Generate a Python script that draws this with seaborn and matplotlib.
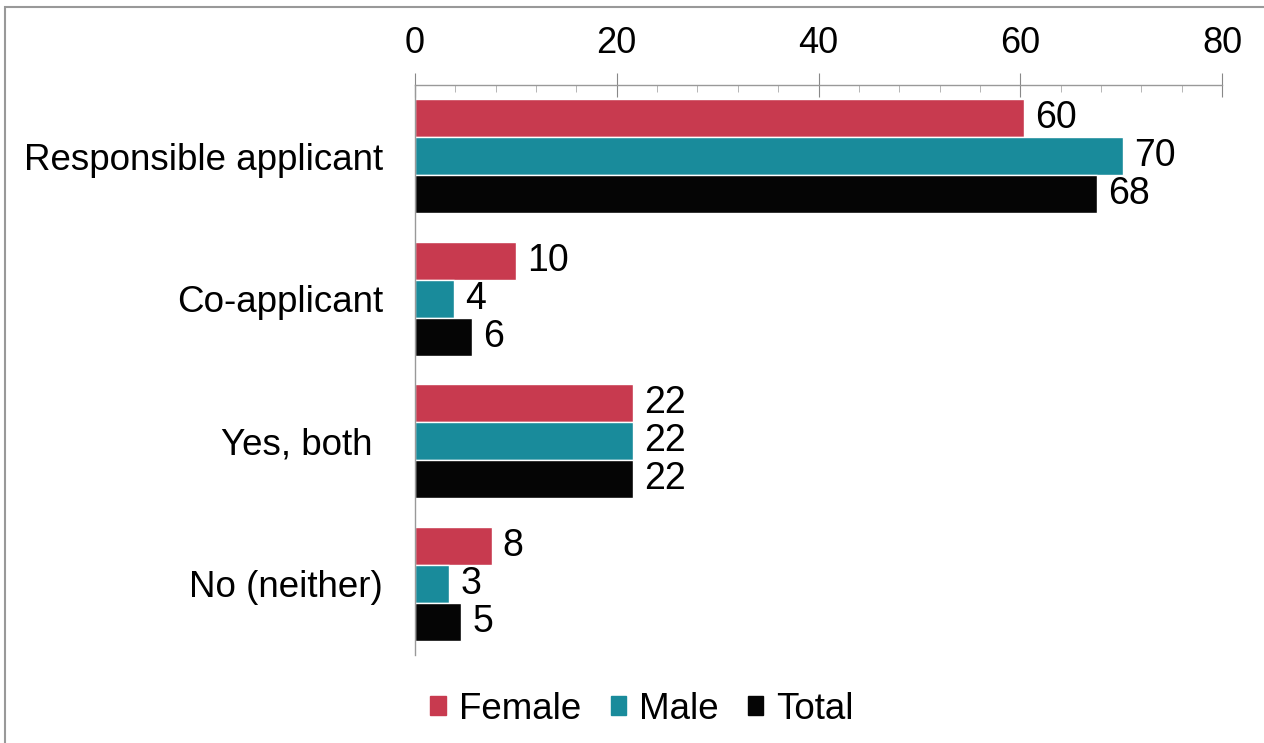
import pandas as pd
import matplotlib.pyplot as plt
import seaborn as sns
from matplotlib.ticker import MultipleLocator
from matplotlib.patches import Rectangle

categories = ["Responsible applicant", "Co-applicant", "Yes, both ", "No (neither)"]
groups = ["Female", "Male", "Total"]
female = [60.4, 10.0, 21.6, 7.6]
male = [70.2, 3.9, 21.6, 3.4]
total = [67.6, 5.7, 21.6, 4.6]
colors = ["#C83A4F", "#198B9B", "#050505"]

rows = []
for g, vals in zip(groups, [female, male, total]):
    for c, v in zip(categories, vals):
        rows.append({"category": c, "group": g, "value": v})
df = pd.DataFrame(rows)

sns.set_style("white")
plt.rcParams["font.family"] = ["Liberation Sans", "DejaVu Sans"]
plt.rcParams["text.color"] = "black"
plt.rcParams["xtick.color"] = "black"
plt.rcParams["ytick.color"] = "black"

fig = plt.figure(figsize=(12.64, 7.43), dpi=100)
ax = fig.add_axes([0.3283, 0.1184, 0.6385, 0.7672])

sns.barplot(data=df, y="category", x="value", hue="group", orient="h",
            palette=colors, saturation=1, width=0.8, ax=ax, legend=False)

for cont in ax.containers:
    ax.bar_label(cont, fmt="%.0f", padding=8, fontsize=27, color="black")

ax.set_xlim(0, 80)
ax.set_ylim(3.5, -0.5)
ax.xaxis.tick_top()
ax.xaxis.set_major_locator(MultipleLocator(20))
ax.xaxis.set_minor_locator(MultipleLocator(4))
ax.tick_params(axis="x", which="major", direction="inout", length=17, color="#888888",
               labelcolor="black", labelsize=26, pad=9)
ax.tick_params(axis="x", which="minor", direction="in", length=5, color="#aaaaaa")
ax.tick_params(axis="y", length=0, labelsize=26.5, labelcolor="black", pad=23)
ax.set_xlabel("")
ax.set_ylabel("")
for s in ["right", "bottom"]:
    ax.spines[s].set_visible(False)
for s in ["top", "left"]:
    ax.spines[s].set_color("#999999")
    ax.spines[s].set_linewidth(1)

handles = [Rectangle((0, 0), 1, 1, color=c) for c in colors]
fig.legend(handles, groups, loc="center", bbox_to_anchor=(0.508, 0.045), ncol=3,
           frameon=False, fontsize=26.5, handlelength=0.42, handleheight=0.42,
           handletextpad=0.35, columnspacing=0.8)

fig.patches.append(Rectangle((0.004, -0.1), 1.1, 1.09, transform=fig.transFigure,
                             fill=False, edgecolor="#999999", linewidth=1.5))

fig.savefig("out.png", dpi=100)
